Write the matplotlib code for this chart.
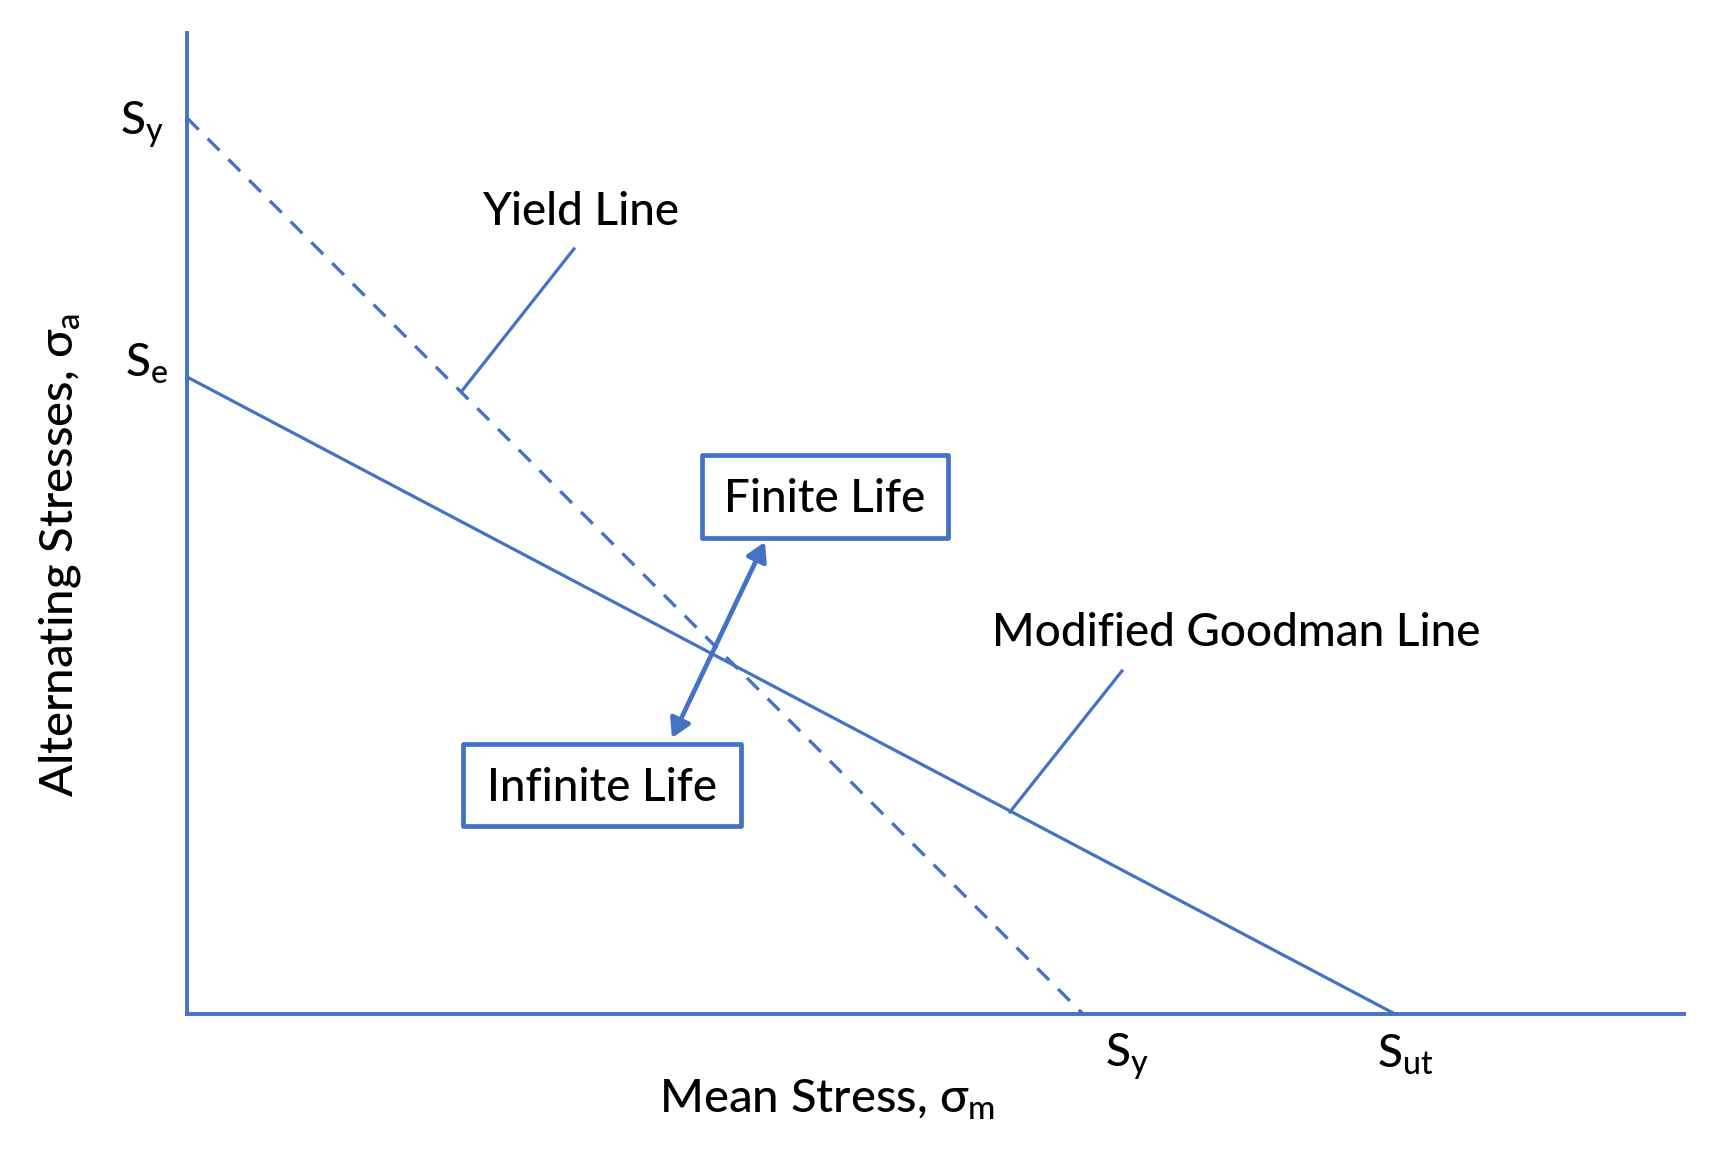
import matplotlib
matplotlib.use("Agg")
import matplotlib.pyplot as plt
from matplotlib.patches import Rectangle

# === diagram values (arbitrary stress units) ===
SY = 8.96          # yield strength
SE = 6.37          # endurance limit
SUT = 12.08        # ultimate tensile strength
X_MAX = 14.97
Y_MAX = 9.81

yield_x = [0, SY]
yield_y = [SY, 0]
goodman_x = [0, SUT]
goodman_y = [SE, 0]

# leader lines from labels to the curves
yield_leader_x = [3.87, 2.75]
yield_leader_y = [7.65, 6.23]
goodman_leader_x = [9.35, 8.23]
goodman_leader_y = [3.43, 2.02]

BLUE = "#4472C4"
FONT = ["Lato", "DejaVu Sans"]
FS = 33
W = "medium"

plt.rcParams["font.family"] = FONT
plt.rcParams["font.weight"] = W
plt.rcParams["mathtext.fontset"] = "custom"
plt.rcParams["mathtext.rm"] = "Lato:medium"
plt.rcParams["mathtext.it"] = "Lato:italic"

fig = plt.figure(figsize=(17.18, 11.58), dpi=100)
ax = fig.add_axes([0.1088, 0.1244, 0.8714, 0.8472])
ax.set_xlim(0, X_MAX)
ax.set_ylim(0, Y_MAX)

for s in ["top", "right"]:
    ax.spines[s].set_visible(False)
for s in ["left", "bottom"]:
    ax.spines[s].set_color(BLUE)
    ax.spines[s].set_linewidth(2.8)
ax.set_xticks([])
ax.set_yticks([])

ax.plot(yield_x, yield_y, color=BLUE, lw=2.4, dashes=(5, 3.8), clip_on=False)
ax.plot(goodman_x, goodman_y, color=BLUE, lw=2.3, clip_on=False)
ax.plot(yield_leader_x, yield_leader_y, color=BLUE, lw=2.3)
ax.plot(goodman_leader_x, goodman_leader_y, color=BLUE, lw=2.3)

ax.text(3.94, 7.89, "Yield Line", fontsize=FS, ha="center", va="baseline")
ax.text(10.49, 3.68, "Modified Goodman Line", fontsize=FS, ha="center", va="baseline")

# boxes
for (x0, x1, y0, y1), label in [((5.15, 7.61, 4.76, 5.59), "Finite Life"),
                                 ((2.76, 5.54, 1.88, 2.70), "Infinite Life")]:
    ax.add_patch(Rectangle((x0, y0), x1 - x0, y1 - y0, fill=False,
                           edgecolor=BLUE, lw=3.4, joinstyle="round"))
    ax.text((x0 + x1) / 2, (y0 + y1) / 2 - 0.03, label, fontsize=FS,
            ha="center", va="center")

ax.annotate("", xy=(5.78, 4.72), xytext=(4.85, 2.76),
            arrowprops=dict(arrowstyle="<|-|>,head_length=0.55,head_width=0.32",
                            color=BLUE, lw=3.4, mutation_scale=20,
                            shrinkA=0, shrinkB=0))

# axis "tick" labels
ax.text(-0.23, 8.79, r"S$_\mathrm{y}$", fontsize=FS, ha="right", va="baseline", clip_on=False)
ax.text(-0.19, 6.37, r"S$_\mathrm{e}$", fontsize=FS, ha="right", va="baseline", clip_on=False)
ax.text(9.18, -0.53, r"S$_\mathrm{y}$", fontsize=FS, ha="left", va="baseline", clip_on=False)
ax.text(11.90, -0.54, r"S$_\mathrm{ut}$", fontsize=FS, ha="left", va="baseline", clip_on=False)

ax.text(6.40, -0.99, r"Mean Stress, σ$_\mathrm{m}$", fontsize=FS + 1,
        ha="center", va="baseline", clip_on=False)
ax.text(-1.14, 4.59, r"Alternating Stresses, σ$_\mathrm{a}$", fontsize=FS + 1,
        ha="center", va="baseline", rotation=90, rotation_mode="anchor", clip_on=False)

fig.savefig("out.png", dpi=100)
